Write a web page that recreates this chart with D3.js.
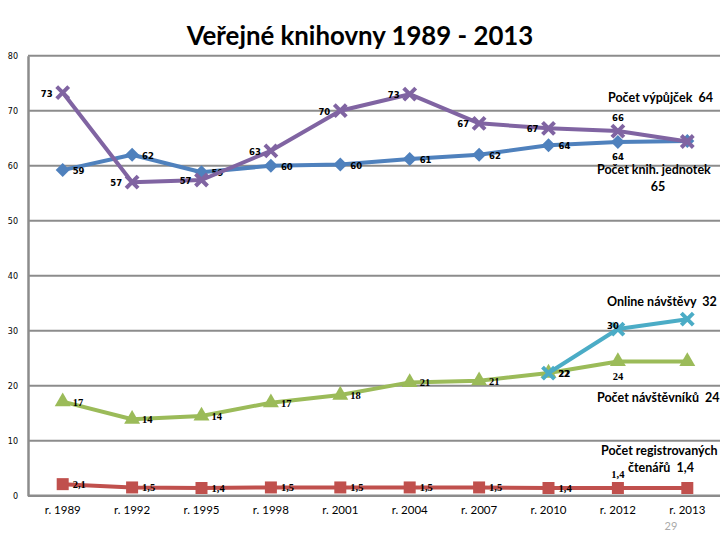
<!DOCTYPE html>
<html><head><meta charset="utf-8">
<script src="https://cdn.jsdelivr.net/npm/d3@7/dist/d3.min.js"></script>
<style>body{margin:0;background:#fff}svg{display:block}</style>
</head><body>
<svg id="c" width="720" height="540"></svg>
<script>
const categories = ["r. 1989","r. 1992","r. 1995","r. 1998","r. 2001","r. 2004","r. 2007","r. 2010","r. 2012","r. 2013"];
const yTicks = [0,10,20,30,40,50,60,70,80];
const jednotky = [59.2,62,58.8,60,60.2,61.2,62,63.7,64.3,64.5];
const vypujcky = [73.3,57,57.4,62.7,70,73,67.7,66.8,66.3,64.4];
const navstevnici = [17.1,13.9,14.5,16.9,18.3,20.6,20.9,22.3,24.4,24.4];
const online = [null,null,null,null,null,null,null,22.3,30.3,32.1];
const ctenari = [2.1,1.5,1.4,1.5,1.5,1.5,1.5,1.4,1.4,1.4];
const jednotkyLabels = ["59","62","59","60","60","61","62","64","64",null];
const vypujckyLabels = ["73","57","57","63","70","73","67","67","66",null];
const navstevniciLabels = ["17","14","14","17","18","21","21","22","24",null];
const onlineLabels = [null,null,null,null,null,null,null,"22","30",null];
const ctenariLabels = ["2,1","1,5","1,4","1,5","1,5","1,5","1,5","1,4","1,4",null];
const seriesNames = ["Počet knih. jednotek","Počet výpůjček","Online návštěvy","Počet návštěvníků","Počet registrovaných čtenářů"];
const seriesLast = ["65","64","32","24","1,4"];
const title = "Veřejné knihovny 1989 - 2013";
const pageNumber = "29";

// placement styles (separate from data)
const placeJ = ["r","r","r","r","r","r","r","r","b",null];
const placeV = ["l","l","l","l","l","l","l","l","a",null];
const placeN = ["r","r","r","r","r","r","r","r","b",null];
const placeO = [null,null,null,null,null,null,null,"r","la",null];
const placeC = ["r","r","r","r","r","r","r","r","a",null];

const svg = d3.select("#c");
const pLeft = 28, pRight = 722, pTop = 55.7, pBottom = 495.7;
const x = d3.scaleBand().domain(categories).range([pLeft,pRight]);
const y = d3.scaleLinear().domain([0,80]).range([pBottom,pTop]);
const cx = i => x(categories[i]) + x.bandwidth()/2;

// title
svg.append("text").attr("x",360).attr("y",45).attr("text-anchor","middle")
  .attr("font-family","Lato, 'Open Sans', sans-serif").attr("font-weight","bold")
  .attr("font-size",25.8).attr("fill","#000").text(title);

// gridlines
svg.append("g").selectAll("line").data(yTicks.filter(t=>t>0)).join("line")
  .attr("x1",pLeft).attr("x2",720).attr("y1",d=>y(d)).attr("y2",d=>y(d))
  .attr("stroke","#8c8c8c").attr("stroke-width",2);

// y axis
const ya = svg.append("g").attr("transform",`translate(${pLeft},0)`)
  .call(d3.axisLeft(y).tickValues(yTicks).tickSize(0).tickPadding(10));
ya.select(".domain").attr("stroke","#8c8c8c").attr("stroke-width",2.5);
ya.selectAll("text").attr("font-family","DejaVu Sans, sans-serif").attr("font-size",8).attr("fill","#000");

// x axis
const xa = svg.append("g").attr("transform",`translate(0,${pBottom})`)
  .call(d3.axisBottom(x).tickSize(0).tickPadding(10));
xa.select(".domain").attr("stroke","#8c8c8c").attr("stroke-width",2.5).attr("d",`M${pLeft},0H720`);
xa.selectAll("text").attr("font-family","Lato, 'Open Sans', sans-serif").attr("font-size",11.5).attr("fill","#000");

function drawSeries(vals, color, marker, labels, places, labelFont){
  const g = svg.append("g");
  const pts = vals.map((v,i)=>({v,i})).filter(d=>d.v!==null);
  const line = d3.line().x(d=>cx(d.i)).y(d=>y(d.v));
  g.append("path").attr("d",line(pts)).attr("fill","none").attr("stroke",color)
    .attr("stroke-width",4).attr("stroke-linejoin","round");
  pts.forEach(d=>{
    const px = cx(d.i), py = y(d.v);
    if(marker==="diamond"){
      g.append("path").attr("d",`M${px},${py-7}L${px+7},${py}L${px},${py+7}L${px-7},${py}Z`).attr("fill",color);
    } else if(marker==="square"){
      g.append("rect").attr("x",px-6).attr("y",py-6).attr("width",12).attr("height",12).attr("fill",color);
    } else if(marker==="triangle"){
      g.append("path").attr("d",d3.symbol(d3.symbolTriangle,110)()).attr("transform",`translate(${px},${py})`).attr("fill",color);
    } else if(marker==="x"){
      g.append("path").attr("d",`M${px-6},${py-6}L${px+6},${py+6}M${px-6},${py+6}L${px+6},${py-6}`)
        .attr("stroke",color).attr("stroke-width",4);
    }
  });
  pts.forEach(d=>{
    const lab = labels[d.i], p = places[d.i];
    if(!lab) return;
    const px = cx(d.i), py = y(d.v);
    let tx=px, ty=py, anchor="middle";
    if(p==="r"){tx=px+10;ty=py+4;anchor="start";}
    else if(p==="l"){tx=px-10;ty=py+4;anchor="end";}
    else if(p==="a"){ty=py-10;}
    else if(p==="b"){ty=py+18;}
    else if(p==="la"){tx=px+1;ty=py;anchor="end";}
    svg.append("text").attr("x",tx).attr("y",ty).attr("text-anchor",anchor)
      .attr("font-family",labelFont.family).attr("font-weight","bold")
      .attr("font-size",labelFont.size).attr("fill","#000").text(lab);
  });
}
const sansF = {family:"DejaVu Sans, sans-serif", size:8.5};
const serifF = {family:"'Liberation Serif', serif", size:10.5};
drawSeries(jednotky,"#4F81BD","diamond",jednotkyLabels,placeJ,sansF);
drawSeries(vypujcky,"#8064A2","x",vypujckyLabels,placeV,sansF);
drawSeries(ctenari,"#C0504D","square",ctenariLabels,placeC,serifF);
drawSeries(navstevnici,"#9BBB59","triangle",navstevniciLabels,placeN,serifF);
drawSeries(online,"#4BACC6","x",onlineLabels,placeO,sansF);

// series name labels
const lf = "Lato, 'Open Sans', sans-serif";
function seriesText(xp,yp,txt,anchor){
  svg.append("text").attr("x",xp).attr("y",yp).attr("text-anchor",anchor||"start")
    .attr("font-family",lf).attr("font-weight","bold").attr("font-size",12.5).attr("fill","#000")
    .style("white-space","pre").text(txt);
}
seriesText(608,102,seriesNames[1]+"  "+seriesLast[1]);
seriesText(597,174,seriesNames[0]);
seriesText(658,191,seriesLast[0],"middle");
seriesText(607,306,seriesNames[2]+"  "+seriesLast[2]);
seriesText(597,402,seriesNames[3]+"  "+seriesLast[3]);
const regWords = seriesNames[4].split(" ");
seriesText(601,455,regWords[0]+" "+regWords[1]);
seriesText(628,472,regWords[2]+"  "+seriesLast[4]);

// page number
svg.append("text").attr("x",671).attr("y",530).attr("text-anchor","middle")
  .attr("font-family",lf).attr("font-size",11).attr("fill","#aaa").text(pageNumber);
</script>
</body></html>
